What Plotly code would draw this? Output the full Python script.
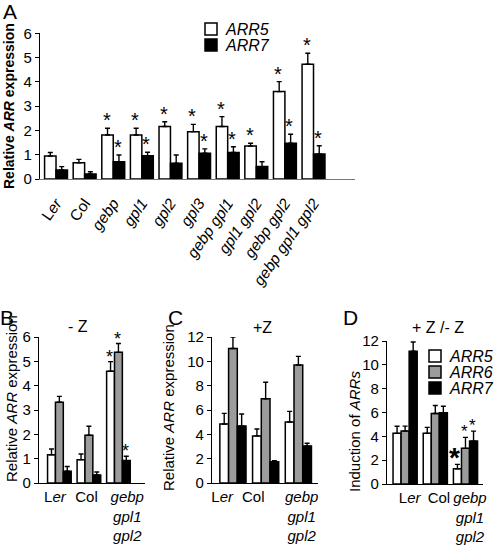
import plotly.graph_objects as go

W, H = 498, 546
FONT = "Liberation Sans, Arial, sans-serif"

# ---------------- data ----------------
A_labels = ["L<i>er</i>", "Col", "<i>gebp</i>", "<i>gpl1</i>", "<i>gpl2</i>", "<i>gpl3</i>",
            "<i>gebp gpl1</i>", "<i>gpl1 gpl2</i>", "<i>gebp gpl2</i>", "<i>gebp gpl1 gpl2</i>"]
A_arr5 = [0.95, 0.67, 1.81, 1.81, 2.16, 1.95, 2.16, 1.36, 3.60, 4.73]
A_arr5_err = [0.14, 0.14, 0.28, 0.28, 0.20, 0.30, 0.41, 0.11, 0.41, 0.45]
A_arr7 = [0.37, 0.21, 0.71, 0.96, 0.65, 1.06, 1.09, 0.51, 1.47, 1.03]
A_arr7_err = [0.14, 0.09, 0.28, 0.14, 0.34, 0.18, 0.24, 0.20, 0.37, 0.34]
A_arr5_sig = [0, 0, 1, 1, 1, 1, 1, 1, 1, 1]
A_arr7_sig = [0, 0, 1, 1, 0, 1, 1, 0, 1, 1]

BCD_labels = ["L<i>er</i>", "Col", "<i>gebp</i><br><i>gpl1</i><br><i>gpl2</i>"]

B_arr5 = [1.16, 0.96, 4.59]
B_arr5_err = [0.24, 0.23, 0.40]
B_arr6 = [3.32, 1.96, 5.37]
B_arr6_err = [0.24, 0.37, 0.36]
B_arr7 = [0.48, 0.33, 0.92]
B_arr7_err = [0.20, 0.12, 0.18]
B_sig = [[0, 0, 1], [0, 0, 1], [0, 0, 1]]

C_arr5 = [4.85, 3.87, 5.01]
C_arr5_err = [0.87, 0.57, 0.88]
C_arr6 = [11.06, 6.92, 9.70]
C_arr6_err = [0.94, 1.36, 0.71]
C_arr7 = [4.69, 1.74, 3.05]
C_arr7_err = [0.98, 0.09, 0.22]
C_sig = [[0, 0, 0], [0, 0, 0], [0, 0, 0]]

D_arr5 = [4.25, 4.25, 1.28]
D_arr5_err = [0.60, 0.50, 0.37]
D_arr6 = [4.44, 5.92, 2.99]
D_arr6_err = [0.42, 0.67, 0.92]
D_arr7 = [11.14, 5.98, 3.60]
D_arr7_err = [0.78, 0.55, 0.84]
D_sig = [[0, 0, 2], [0, 0, 1], [0, 0, 1]]   # 2 = large star

series_names = ["ARR5", "ARR6", "ARR7"]
COL5, COL6, COL7 = "white", "#9c9c9c", "black"


def xd(l, r):
    return [l / W, r / W]


def yd(bottom, top):
    return [1 - bottom / H, 1 - top / H]


fig = go.Figure()
ann = []


def add_panel(k, series, bargap, star_size, star_shift):
    """series: list of (name, color, values, errs, sig)"""
    xa = "x" if k == 1 else f"x{k}"
    ya = "y" if k == 1 else f"y{k}"
    n = len(series)
    w = (1 - bargap) / n
    for j, (name, color, vals, errs, sig) in enumerate(series):
        idx = list(range(len(vals)))
        fig.add_trace(go.Bar(
            x=idx, y=vals, name=name, xaxis=xa, yaxis=ya,
            marker=dict(color=color, line=dict(color="black", width=1.5)),
            error_y=dict(type="data", symmetric=False, array=errs,
                         arrayminus=[0] * len(errs), color="black",
                         thickness=1.4, width=2.5),
            showlegend=False,
        ))
        for i in idx:
            if not sig[i]:
                continue
            big = sig[i] == 2
            ann.append(dict(
                x=i - (1 - bargap) / 2 + (j + 0.5) * w, y=vals[i] + errs[i],
                xref=xa, yref=ya, text="<b>*</b>" if big else "*", showarrow=False,
                xanchor="center", yanchor="bottom",
                yshift=-11 if big else star_shift, xshift=-3 if big else -1,
                font=dict(family=FONT, size=28 if big else star_size, color="black"),
            ))


add_panel(1, [(series_names[0], COL5, A_arr5, A_arr5_err, A_arr5_sig),
              (series_names[2], COL7, A_arr7, A_arr7_err, A_arr7_sig)],
          0.22, 20, -5)
add_panel(2, [(series_names[0], COL5, B_arr5, B_arr5_err, B_sig[0]),
              (series_names[1], COL6, B_arr6, B_arr6_err, B_sig[1]),
              (series_names[2], COL7, B_arr7, B_arr7_err, B_sig[2])],
          0.22, 18, -7)
add_panel(3, [(series_names[0], COL5, C_arr5, C_arr5_err, C_sig[0]),
              (series_names[1], COL6, C_arr6, C_arr6_err, C_sig[1]),
              (series_names[2], COL7, C_arr7, C_arr7_err, C_sig[2])],
          0.31, 18, -7)
add_panel(4, [(series_names[0], COL5, D_arr5, D_arr5_err, D_sig[0]),
              (series_names[1], COL6, D_arr6, D_arr6_err, D_sig[1]),
              (series_names[2], COL7, D_arr7, D_arr7_err, D_sig[2])],
          0.24, 17, -6)

tickfont = dict(family=FONT, size=15, color="black")


def yaxis_cfg(dom, rng, dtick, anchor):
    return dict(domain=dom, range=rng, dtick=dtick, anchor=anchor, automargin=False,
                showline=True, linecolor="black", linewidth=1.2,
                ticks="outside", ticklen=4, tickcolor="black", tickwidth=1,
                showgrid=False, zeroline=False, tickfont=tickfont, fixedrange=True)


def xaxis_cfg(dom, rng, labels, shifts, anchor, linecolor="black", angle=0, pad=0,
              size=15):
    return dict(domain=dom, range=rng, anchor=anchor, automargin=False,
                tickmode="array", tickvals=[i + s for i, s in enumerate(shifts)],
                ticktext=labels, tickangle=angle, showline=True, linecolor=linecolor,
                linewidth=1.2, ticks="outside" if pad else "", ticklen=max(pad, 1),
                tickcolor="rgba(0,0,0,0)",
                showgrid=False, zeroline=False, fixedrange=True,
                tickfont=dict(family=FONT, size=size, color="black"))


# small label offsets (layout only) to mimic the original label placement
A_shift = [0] * len(A_labels)
B_shift = [-0.15, -0.08, 0.3]
C_shift = [-0.33, -0.38, 0.1]
D_shift = [0.15, 0.12, 0.15]

layout = dict(
    width=W, height=H, margin=dict(l=0, r=0, t=0, b=0, autoexpand=False),
    paper_bgcolor="white", plot_bgcolor="white",
    barmode="group", showlegend=False,
    font=dict(family=FONT, color="black"),
    xaxis=xaxis_cfg(xd(40, 355), [-0.56, 10.45], A_labels, A_shift, "y",
                    linecolor="#777", angle=-55, pad=8, size=15.5),
    yaxis=yaxis_cfg(yd(179, 33.3), [0, 6], 1, "x"),
    xaxis2=xaxis_cfg(xd(39, 145), [-0.69, 2.9], BCD_labels, B_shift, "y2"),
    yaxis2=yaxis_cfg(yd(483, 337), [0, 6], 1, "x2"),
    xaxis3=xaxis_cfg(xd(212, 318), [-0.64, 2.6], BCD_labels, C_shift, "y3"),
    yaxis3=yaxis_cfg(yd(483, 337), [0, 12], 2, "x3"),
    xaxis4=xaxis_cfg(xd(387, 483), [-0.6, 2.58], BCD_labels, D_shift, "y4"),
    yaxis4=yaxis_cfg(yd(484, 341), [0, 12], 2, "x4"),
)


def txt(x, y, s, size, angle=0, bold=False, xanchor="center"):
    ann.append(dict(x=x / W, y=1 - y / H, xref="paper", yref="paper", text=s,
                    showarrow=False, textangle=angle, xanchor=xanchor, yanchor="middle",
                    font=dict(family=FONT, size=size, color="black",
                              weight="bold" if bold else "normal")))


# panel letters
txt(10, 11, "A", 21)
txt(7, 317, "B", 21)
txt(175, 317, "C", 21)
txt(350, 317, "D", 21)
# panel subtitles
txt(78, 326, "- Z", 16)
txt(262, 327, "+Z", 16)
txt(438, 327, "+ Z /- Z", 16)
# y-axis titles
txt(9, 106, "Relative <i>ARR</i> expression", 14, angle=-90, bold=True)
txt(11, 399, "Relative <i>ARR</i> expression", 15, angle=-90)
txt(168, 408, "Relative <i>ARR</i> expression", 15, angle=-90)
txt(354, 432, "Induction of <i>ARRs</i>", 15, angle=-90)

# legends (drawn manually: square key + italic label)
shapes = []


def legend_item(x, yc, color, label):
    shapes.append(dict(type="rect", xref="paper", yref="paper",
                       x0=x / W, x1=(x + 12) / W, y0=1 - (yc + 6) / H, y1=1 - (yc - 6) / H,
                       fillcolor=color, line=dict(color="black", width=1.5)))
    txt(x + 18, yc, f"<i>{label}</i>", 16, xanchor="left")


legend_item(205, 29, COL5, series_names[0])
legend_item(205, 45, COL7, series_names[2])
legend_item(429, 356, COL5, series_names[0])
legend_item(429, 372, COL6, series_names[1])
legend_item(429, 388, COL7, series_names[2])

layout["annotations"] = ann
layout["shapes"] = shapes
fig.update_layout(**layout)
fig.write_html("out.html", config={"displayModeBar": False},
               post_script="document.body.style.margin='0';document.body.style.overflow='hidden';")
